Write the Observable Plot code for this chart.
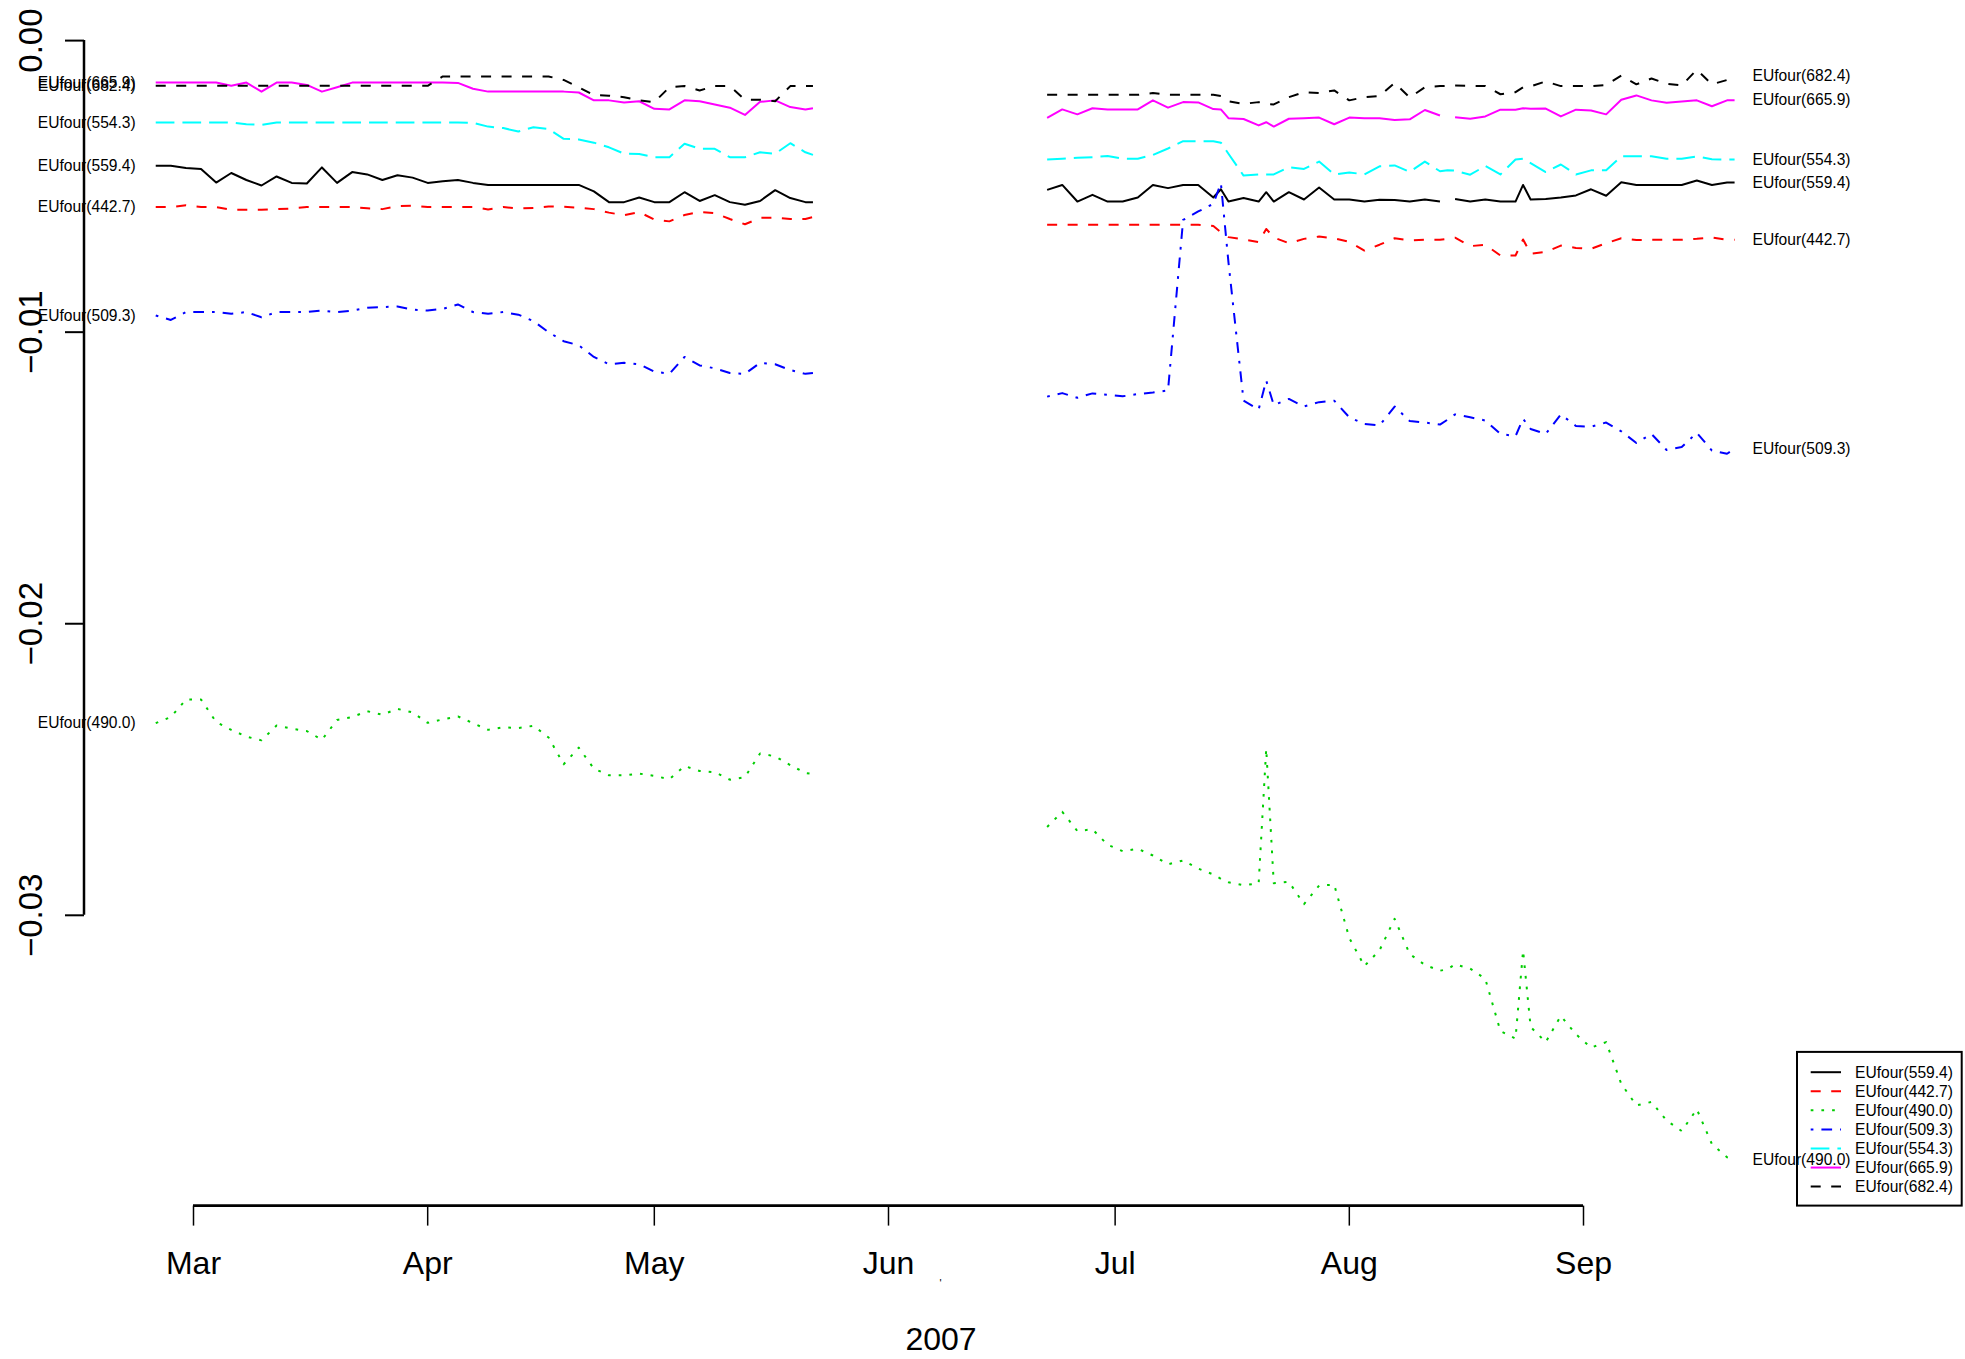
<!DOCTYPE html>
<html><head><meta charset="utf-8">
<script src="https://cdn.jsdelivr.net/npm/d3@7"></script>
<script src="https://cdn.jsdelivr.net/npm/@observablehq/plot@0.6"></script>
<style>
html,body{margin:0;padding:0;background:#fff;}
#chart{position:relative;width:1965px;height:1359px;overflow:hidden;}
</style>
</head><body><div id="chart"></div>
<script>
// ---------- data ----------
const seriesNames = ["EUfour(559.4)","EUfour(442.7)","EUfour(490.0)","EUfour(509.3)","EUfour(554.3)","EUfour(665.9)","EUfour(682.4)"];
const monthTicks = ["2007-03-01","2007-04-01","2007-05-01","2007-06-01","2007-07-01","2007-08-01","2007-09-01"];
const yTicks = [0, -0.01, -0.02, -0.03];
const xTitle = "2007";

const dates1 = ["2007-02-24","2007-02-26","2007-02-28","2007-03-02","2007-03-04","2007-03-06","2007-03-08","2007-03-10","2007-03-12","2007-03-14",
"2007-03-16","2007-03-18","2007-03-20","2007-03-22","2007-03-24","2007-03-26","2007-03-28","2007-03-30","2007-04-01","2007-04-03",
"2007-04-05","2007-04-07","2007-04-09","2007-04-11","2007-04-13","2007-04-15","2007-04-17","2007-04-19","2007-04-21","2007-04-23",
"2007-04-25","2007-04-27","2007-04-29","2007-05-01","2007-05-03","2007-05-05","2007-05-07","2007-05-09","2007-05-11","2007-05-13",
"2007-05-15","2007-05-17","2007-05-19","2007-05-21","2007-05-22"];
const dates2 = ["2007-06-22","2007-06-24","2007-06-26","2007-06-28","2007-06-30","2007-07-02","2007-07-04","2007-07-06","2007-07-08","2007-07-10",
"2007-07-12","2007-07-14","2007-07-15","2007-07-16","2007-07-18","2007-07-20","2007-07-21","2007-07-22","2007-07-24","2007-07-26",
"2007-07-28","2007-07-30","2007-08-01","2007-08-03","2007-08-05","2007-08-07","2007-08-09","2007-08-11","2007-08-13","2007-08-14",
"2007-08-15","2007-08-17","2007-08-19","2007-08-21","2007-08-23","2007-08-24","2007-08-25","2007-08-27","2007-08-29","2007-08-31",
"2007-09-02","2007-09-04","2007-09-06","2007-09-08","2007-09-10","2007-09-12","2007-09-14","2007-09-16","2007-09-18","2007-09-20",
"2007-09-21"];

// first period (Feb 24 - May 22)
const s559_1 = [-0.00429,-0.00429,-0.00437,-0.0044,-0.00487,-0.00454,-0.00478,-0.00497,-0.00466,-0.00488,
-0.0049,-0.00435,-0.00488,-0.00451,-0.00459,-0.00478,-0.00462,-0.0047,-0.00488,-0.00482,
-0.00478,-0.00488,-0.00495,-0.00495,-0.00495,-0.00495,-0.00495,-0.00495,-0.00495,-0.00517,
-0.00554,-0.00554,-0.00538,-0.00554,-0.00554,-0.0052,-0.0055,-0.0053,-0.00554,-0.00563,
-0.0055,-0.00513,-0.0054,-0.00554,-0.00554];
const s442_1 = [-0.00571,-0.00571,-0.00565,-0.00571,-0.00571,-0.0058,-0.0058,-0.0058,-0.00578,-0.00576,
-0.00571,-0.00571,-0.00571,-0.00571,-0.00575,-0.00578,-0.00568,-0.00566,-0.00571,-0.00571,
-0.00571,-0.00571,-0.00579,-0.00571,-0.00576,-0.00574,-0.00569,-0.0057,-0.00573,-0.00578,
-0.0059,-0.00599,-0.00588,-0.00614,-0.0062,-0.00598,-0.00588,-0.00592,-0.00612,-0.0063,
-0.00608,-0.00607,-0.00612,-0.00612,-0.00605];
const s490_1 = [-0.02341,-0.0232,-0.0226,-0.0226,-0.02337,-0.02364,-0.02387,-0.024,-0.02349,-0.0236,
-0.02368,-0.02398,-0.0233,-0.0232,-0.023,-0.02312,-0.02292,-0.02304,-0.0234,-0.02328,
-0.02318,-0.02341,-0.02364,-0.02355,-0.02358,-0.0235,-0.0239,-0.02482,-0.02425,-0.02497,
-0.0252,-0.0252,-0.02514,-0.02522,-0.02533,-0.02488,-0.02505,-0.02509,-0.02535,-0.02526,
-0.02445,-0.02455,-0.02485,-0.02512,-0.02515];
const s509_1 = [-0.00943,-0.00958,-0.00931,-0.00931,-0.00931,-0.00937,-0.00931,-0.00949,-0.00931,-0.00931,
-0.00931,-0.00926,-0.00931,-0.00926,-0.00916,-0.00914,-0.00912,-0.00923,-0.00926,-0.0092,
-0.00905,-0.00931,-0.00937,-0.00931,-0.0094,-0.00962,-0.01,-0.01031,-0.01045,-0.01085,
-0.0111,-0.01105,-0.0111,-0.01135,-0.01143,-0.01085,-0.01114,-0.01124,-0.0114,-0.01143,
-0.01105,-0.0111,-0.0113,-0.01143,-0.0114];
const s554_1 = [-0.00281,-0.00281,-0.00281,-0.00281,-0.00281,-0.00281,-0.00287,-0.00289,-0.00281,-0.00281,
-0.00281,-0.00281,-0.00281,-0.00281,-0.00281,-0.00281,-0.00281,-0.00281,-0.00281,-0.00281,
-0.00281,-0.00282,-0.00295,-0.003,-0.00312,-0.00297,-0.00303,-0.00337,-0.00339,-0.0035,
-0.00366,-0.00388,-0.00389,-0.004,-0.004,-0.00354,-0.00371,-0.00371,-0.004,-0.004,
-0.00383,-0.00388,-0.00352,-0.00383,-0.00392];
const s666_1 = [-0.00144,-0.00144,-0.00144,-0.00144,-0.00144,-0.00155,-0.00144,-0.00175,-0.00144,-0.00144,
-0.00152,-0.00175,-0.0016,-0.00144,-0.00144,-0.00144,-0.00144,-0.00144,-0.00144,-0.00144,
-0.00145,-0.00165,-0.00175,-0.00175,-0.00175,-0.00175,-0.00175,-0.00175,-0.00178,-0.00205,
-0.00205,-0.00212,-0.00208,-0.00234,-0.00236,-0.00205,-0.00208,-0.00219,-0.0023,-0.00255,
-0.0021,-0.00205,-0.00228,-0.00236,-0.00232];
const s682_1 = [-0.00155,-0.00155,-0.00155,-0.00155,-0.00155,-0.00155,-0.00155,-0.00155,-0.00155,-0.00155,
-0.00155,-0.00155,-0.00155,-0.00155,-0.00155,-0.00155,-0.00155,-0.00155,-0.00155,-0.00123,
-0.00123,-0.00123,-0.00123,-0.00123,-0.00123,-0.00123,-0.00123,-0.00135,-0.0016,-0.00187,
-0.00189,-0.00194,-0.00205,-0.00211,-0.0016,-0.00156,-0.00171,-0.00156,-0.00156,-0.00203,
-0.00203,-0.00208,-0.00156,-0.00156,-0.00156];

// second period (Jun 22 - Sep 21); null = missing day
const s559_2 = [-0.00512,-0.00495,-0.00552,-0.00529,-0.00552,-0.00552,-0.00538,-0.00495,-0.00506,-0.00495,
-0.00495,-0.00538,-0.0051,-0.00552,-0.0054,-0.00552,-0.0052,-0.00552,-0.0052,-0.00545,
-0.00504,-0.00545,-0.00545,-0.00552,-0.00546,-0.00547,-0.00552,-0.00545,-0.00552,null,
-0.00543,-0.00552,-0.00545,-0.00552,-0.00552,-0.00495,-0.00545,-0.00543,-0.00538,-0.00531,
-0.0051,-0.00532,-0.00486,-0.00495,-0.00495,-0.00495,-0.00495,-0.0048,-0.00495,-0.00487,
-0.00487];
const s442_2 = [-0.00632,-0.00632,-0.00632,-0.00632,-0.00632,-0.00632,-0.00632,-0.00632,-0.00632,-0.00632,
-0.00632,-0.00636,-0.00657,-0.00674,-0.00682,-0.00691,-0.00646,-0.00675,-0.00695,-0.0068,
-0.00672,-0.00678,-0.0069,-0.0072,-0.007,-0.00678,-0.00685,-0.00683,-0.00683,-0.0068,
-0.00676,-0.00705,-0.007,-0.00737,-0.00737,-0.00682,-0.00731,-0.00725,-0.00703,-0.00711,
-0.00714,-0.00695,-0.00678,-0.00684,-0.00683,-0.00683,-0.00683,-0.0068,-0.00675,-0.00683,
-0.00683];
const s490_2 = [-0.02697,-0.02645,-0.02711,-0.02705,-0.02758,-0.0278,-0.02772,-0.02795,-0.02825,-0.02812,
-0.0284,-0.0286,-0.02875,-0.02887,-0.02897,-0.0289,-0.02429,-0.0289,-0.02885,-0.02962,
-0.02898,-0.02895,-0.03078,-0.03174,-0.0312,-0.03012,-0.03133,-0.0317,-0.0319,-0.03185,
-0.03168,-0.03183,-0.03218,-0.03397,-0.03423,-0.03121,-0.03383,-0.03435,-0.03345,-0.03408,
-0.03454,-0.03435,-0.03578,-0.03652,-0.0364,-0.03704,-0.0374,-0.03665,-0.03785,-0.0383,
-0.0384];
const s509_2 = [-0.01221,-0.01209,-0.01225,-0.0121,-0.01215,-0.0122,-0.01212,-0.01207,-0.012,-0.00615,
-0.00586,-0.0056,-0.00489,-0.0076,-0.01235,-0.01265,-0.01166,-0.0125,-0.01229,-0.01255,
-0.0124,-0.01235,-0.01292,-0.01315,-0.0132,-0.01255,-0.01305,-0.0131,-0.01317,-0.013,
-0.01282,-0.01292,-0.01303,-0.01349,-0.01357,-0.01297,-0.01332,-0.01349,-0.01282,-0.01322,
-0.01324,-0.0131,-0.0134,-0.0138,-0.01349,-0.01404,-0.01394,-0.01345,-0.01406,-0.01417,
-0.014];
const s554_2 = [-0.00408,-0.00405,-0.00402,-0.004,-0.00396,-0.00405,-0.00405,-0.00392,-0.0037,-0.00345,
-0.00345,-0.00345,-0.0035,-0.00388,-0.00463,-0.00459,-0.00459,-0.00459,-0.00434,-0.0044,
-0.00415,-0.00459,-0.00452,-0.00459,-0.00431,-0.00428,-0.0045,-0.00415,-0.00448,-0.00445,
-0.00446,-0.0046,-0.0043,-0.00459,-0.00408,-0.00405,-0.0042,-0.00451,-0.00425,-0.00459,
-0.00445,-0.00445,-0.00397,-0.00397,-0.00397,-0.00405,-0.00405,-0.00397,-0.00407,-0.00408,
-0.00408];
const s666_2 = [-0.00265,-0.00236,-0.00253,-0.00232,-0.00236,-0.00236,-0.00236,-0.00205,-0.0023,-0.00211,
-0.00212,-0.00235,-0.00236,-0.00266,-0.00269,-0.00291,-0.0028,-0.00295,-0.00268,-0.00266,
-0.00264,-0.00287,-0.00264,-0.00266,-0.00266,-0.00272,-0.0027,-0.00238,-0.00257,null,
-0.00263,-0.00268,-0.0026,-0.00237,-0.00237,-0.00232,-0.00234,-0.00233,-0.0026,-0.00237,
-0.0024,-0.00253,-0.00203,-0.00188,-0.00205,-0.00213,-0.00209,-0.00205,-0.00225,-0.00205,
-0.00205];
const s682_2 = [-0.00186,-0.00186,-0.00186,-0.00186,-0.00186,-0.00186,-0.00186,-0.0018,-0.00186,-0.00186,
-0.00186,-0.00186,-0.0019,-0.00208,-0.00217,-0.00211,-0.00217,-0.00219,-0.00194,-0.00177,
-0.0018,-0.00171,-0.00205,-0.00194,-0.0019,-0.00145,-0.00195,-0.0016,-0.00156,-0.00155,
-0.00154,-0.00155,-0.00156,-0.00184,-0.00177,-0.0016,-0.00157,-0.0014,-0.00156,-0.00156,
-0.00156,-0.00152,-0.0012,-0.0015,-0.0013,-0.00148,-0.00154,-0.001,-0.0015,-0.00135,
-0.00123];

// ---------- styles ----------
const FONT = '"Liberation Sans", Arial, Helvetica, sans-serif';
const lineStyles = [
  {stroke: "#000000", dash: null},
  {stroke: "#ff0000", dash: "10,10.5"},
  {stroke: "#00cd00", dash: "2.7,8"},
  {stroke: "#0000ff", dash: "2.7,8,10.7,8"},
  {stroke: "#00ffff", dash: "18.7,8"},
  {stroke: "#ff00ff", dash: null},
  {stroke: "#000000", dash: "10,10.5"}
];
const W = 1965, H = 1359;
const M = {left: 84, right: 168, top: 22, bottom: 153.4};

// ---------- table ----------
const seg1Values = [s559_1, s442_1, s490_1, s509_1, s554_1, s666_1, s682_1];
const seg2Values = [s559_2, s442_2, s490_2, s509_2, s554_2, s666_2, s682_2];
const rows = [];
seriesNames.forEach((name, i) => {
  dates1.forEach((d, k) => rows.push({series: name, seg: 1, date: new Date(d), value: seg1Values[i][k]}));
  dates2.forEach((d, k) => rows.push({series: name, seg: 2, date: new Date(d), value: seg2Values[i][k]}));
});
const firstRows = seriesNames.map(n => rows.find(r => r.series === n && r.value != null));
const lastRows = seriesNames.map(n => rows.filter(r => r.series === n && r.value != null).at(-1));
const monthDates = monthTicks.map(d => new Date(d));

const lineMarks = seriesNames.map((name, i) => Plot.line(rows.filter(r => r.series === name), {
  x: "date", y: "value", z: "seg",
  stroke: lineStyles[i].stroke,
  strokeDasharray: lineStyles[i].dash || undefined,
  strokeWidth: 2, strokeLinecap: "butt", strokeLinejoin: "round"
}));

const chart = Plot.plot({
  width: W, height: H,
  marginLeft: M.left, marginRight: M.right, marginTop: M.top, marginBottom: M.bottom,
  style: {fontFamily: FONT, fontSize: "15.6px", background: "white", color: "black", overflow: "visible"},
  x: {type: "utc", domain: [monthDates[0], monthDates[monthDates.length - 1]], range: [193, 1583], label: null},
  y: {domain: [0, -0.03], range: [40.1, 914.8], label: null},
  marks: [
    Plot.axisY(yTicks, {anchor: "left", tickSize: 19, tickPadding: 24, tickRotate: -90,
      tickFormat: d3.format(".2f"), fontSize: 33, label: null, strokeWidth: 2}),
    Plot.axisX(monthDates, {anchor: "bottom", tickSize: 20, tickPadding: 25, tickFormat: "%b",
      fontSize: 32, strokeWidth: 1.5, label: xTitle, labelAnchor: "center", labelArrow: "none", labelOffset: 144}),
    ...lineMarks,
    Plot.text(firstRows, {x: "date", y: "value", text: "series", textAnchor: "end", dx: -20, fontSize: 15.6, fill: "black"}),
    Plot.text(lastRows, {x: "date", y: "value", text: "series", textAnchor: "start", dx: 18, fontSize: 15.6, fill: "black"})
  ]
});
document.getElementById("chart").appendChild(chart);

// axis lines (R style: spanning first to last tick) using the plot's scales
const xs = chart.scale("x"), ys = chart.scale("y");
const svg = d3.select(chart);
svg.append("line")
  .attr("x1", M.left).attr("x2", M.left)
  .attr("y1", ys.apply(yTicks[0])).attr("y2", ys.apply(yTicks[yTicks.length - 1]))
  .attr("stroke", "black").attr("stroke-width", 2.5);
svg.append("line")
  .attr("x1", xs.apply(monthDates[0])).attr("x2", xs.apply(monthDates[monthDates.length - 1]))
  .attr("y1", H - M.bottom).attr("y2", H - M.bottom)
  .attr("stroke", "black").attr("stroke-width", 2.8);

// small stray mark under the axis, as in the reference
svg.append("text").attr("x", (M.left + W - M.right) / 2).attr("y", 1287)
  .attr("text-anchor", "middle").attr("font-family", FONT).attr("font-size", 11).attr("fill", "black").text("'");

// legend (anchored at the plot region's bottom-right corner)
const LW = 164.7, LH = 153.7;
const lx = W - M.right, ly = H - M.bottom - LH;
const lg = svg.append("g").attr("font-family", FONT).attr("font-size", 15.6).attr("text-anchor", "start");
lg.append("rect").attr("x", lx).attr("y", ly).attr("width", LW).attr("height", LH)
  .attr("fill", "none").attr("stroke", "black").attr("stroke-width", 2);
seriesNames.forEach((name, i) => {
  const y = ly + 20.3 + i * 19.07;
  lg.append("line").attr("x1", lx + 13.7).attr("x2", lx + 44).attr("y1", y).attr("y2", y)
    .attr("stroke", lineStyles[i].stroke).attr("stroke-width", 2)
    .attr("stroke-dasharray", lineStyles[i].dash || null);
  lg.append("text").attr("x", lx + 58).attr("y", y).attr("dy", "0.35em")
    .attr("text-anchor", "start").attr("fill", "black").text(name);
});
</script>
</body></html>
